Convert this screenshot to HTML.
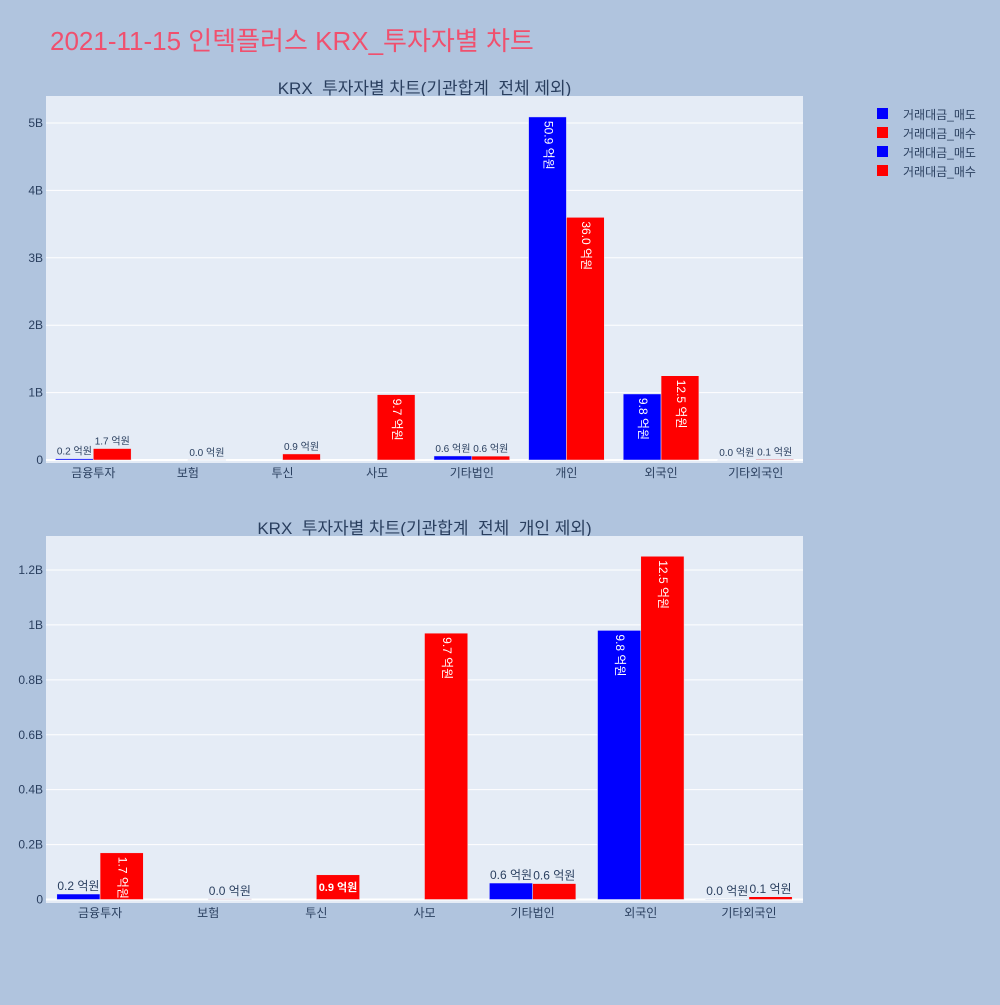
<!DOCTYPE html>
<html><head><meta charset="utf-8">
<style>
body{margin:0;background:#b0c4de;font-family:"Liberation Sans","Noto Sans CJK KR",sans-serif;}
svg text{font-family:"Liberation Sans","Noto Sans CJK KR",sans-serif;}
</style></head>
<body>
<svg id="c" width="1000" height="1000" xmlns="http://www.w3.org/2000/svg">
<rect width="1000" height="1000" fill="#b0c4de"/>
<text x="50" y="50" font-size="26" fill="#f0506e">2021-11-15 인텍플러스 KRX_투자자별 차트</text>
<g id="legend"></g>
</svg>
<script>
const cats1 = ["금융투자","보험","투신","사모","기타법인","개인","외국인","기타외국인"];
const sell1 = [0.02e9, null, null, null, 0.06e9, 5.09e9, 0.98e9, 0.001e9];
const buy1  = [0.17e9, 0.002e9, 0.09e9, 0.97e9, 0.058e9, 3.60e9, 1.25e9, 0.01e9];
const ticks1 = [0,1e9,2e9,3e9,4e9,5e9];
const tickLabels1 = ["0","1B","2B","3B","4B","5B"];
const cats2 = ["금융투자","보험","투신","사모","기타법인","외국인","기타외국인"];
const sell2 = [0.02e9, null, null, null, 0.06e9, 0.98e9, 0.001e9];
const buy2  = [0.17e9, 0.002e9, 0.09e9, 0.97e9, 0.058e9, 1.25e9, 0.01e9];
const ticks2 = [0,0.2e9,0.4e9,0.6e9,0.8e9,1e9,1.2e9];
const tickLabels2 = ["0","0.2B","0.4B","0.6B","0.8B","1B","1.2B"];
const legendLabels = ["거래대금_매도","거래대금_매수","거래대금_매도","거래대금_매수"];
const legendColors = ["#0000ff","#ff0000","#0000ff","#ff0000"];

const NS="http://www.w3.org/2000/svg";
const svg=document.getElementById('c');
function mk(tag,attrs,parent,txt){const e=document.createElementNS(NS,tag);for(const k in attrs)e.setAttribute(k,attrs[k]);if(txt!==undefined)e.textContent=txt;(parent||svg).appendChild(e);return e;}

function drawChart(o){
  const g=mk('g',{});
  
  
  const t=mk('text',{x:(o.x0+o.x1)/2,y:o.top-2,'font-size':17,fill:'#2a3f5f','text-anchor':'middle'},g,o.title);
  
  
  const bg=mk('rect',{x:o.x0,y:o.top,width:o.x1-o.x0,height:o.bottom-o.top,fill:'#e5ecf6'},g);
  
  
  const y=v=>o.zero-(v/o.yMaxVal)*(o.zero-o.yMaxPix);
  o.ticks.forEach((tv,i)=>{
    const yy=y(tv);
    const ln=mk('line',{x1:o.x0,x2:o.x1,y1:yy,y2:yy,stroke:'#fff','stroke-width':i==0?2:1},g);
    
    
    const tl=mk('text',{x:o.x0-3,y:yy+4,'font-size':12,fill:'#2a3f5f','text-anchor':'end'},g,o.tickLabels[i]);
    
    
  });
  const n=o.cats.length, cw=(o.x1-o.x0)/n, bw=cw*0.4;
  o.cats.forEach((c,i)=>{
    const cx=o.x0+cw*(i+0.5);
    const xl=mk('text',{x:cx,y:o.bottom+14,'font-size':12,fill:'#2a3f5f','text-anchor':'middle'},g,c);
    
    
    [[o.sell[i],'#0000ff',cx-bw],[o.buy[i],'#ff0000',cx]].forEach(([v,col,bx],k)=>{
      if(v===null)return;
      const yt=y(v), h=o.zero-yt;
      const r=mk('rect',{x:bx,y:yt,width:bw,height:Math.max(h,0.5),fill:col,stroke:'#e5ecf6','stroke-width':0.5},g);
      
      
      const lab=(v/1e8).toFixed(1)+' 억원';
      let tx;
      if(h>40){
        tx=mk('text',{x:bx+bw/2,y:yt+4,'font-size':12,fill:'#fff',transform:`rotate(90 ${bx+bw/2} ${yt+4})`,'dominant-baseline':'middle'},g,lab);
      }else if(h>20){
        tx=mk('text',{x:bx+bw/2,y:yt+16,'font-size':11,'font-weight':'bold',fill:'#fff','text-anchor':'middle'},g,lab);
      }else{
        tx=mk('text',{x:bx+bw/2,y:yt-4,'font-size':o.fs,fill:'#2a3f5f','text-anchor':'middle'},g,lab);
      }
      
      
    });
  });
}
drawChart({name:'chart-top',title:'KRX_투자자별 차트(기관합계_전체 제외)',x0:46,x1:803,top:96,bottom:463,zero:460,yMaxVal:5e9,yMaxPix:123,cats:cats1,sell:sell1,buy:buy1,ticks:ticks1,tickLabels:tickLabels1,fs:10});
drawChart({name:'chart-bottom',title:'KRX_투자자별 차트(기관합계_전체_개인 제외)',x0:46,x1:803,top:536,bottom:903,zero:899.5,yMaxVal:1.2e9,yMaxPix:570,cats:cats2,sell:sell2,buy:buy2,ticks:ticks2,tickLabels:tickLabels2,fs:12});

const lg=document.getElementById('legend');
legendLabels.forEach((l,i)=>{
  const yy=114+i*19;
  const s=mk('rect',{x:877,y:yy-6,width:11,height:11,fill:legendColors[i]},lg);
  
  
  const t=mk('text',{x:903,y:yy+5,'font-size':12,fill:'#2a3f5f'},lg,l);
  
  
});
</script>
</body></html>
